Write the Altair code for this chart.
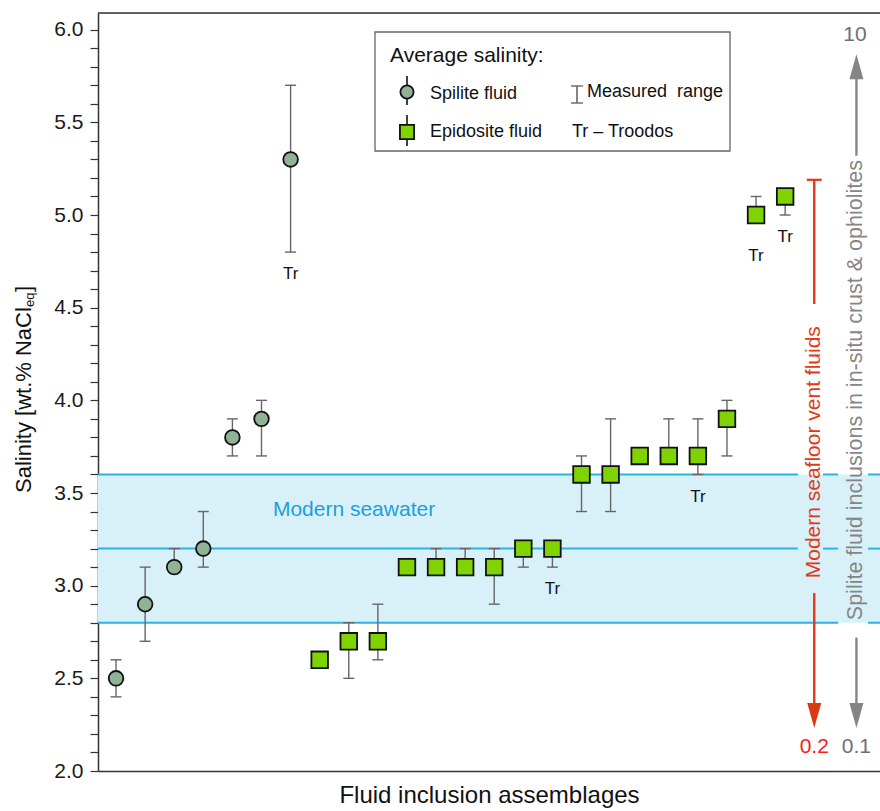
import altair as alt
import pandas as pd

# ---------------- data ----------------
spilite_salinity = [2.5, 2.9, 3.1, 3.2, 3.8, 3.9, 5.3]
spilite_low      = [2.4, 2.7, 3.1, 3.1, 3.7, 3.7, 4.8]
spilite_high     = [2.6, 3.1, 3.2, 3.4, 3.9, 4.0, 5.7]
spilite_troodos  = [False, False, False, False, False, False, True]

epidosite_salinity = [2.6, 2.7, 2.7, 3.1, 3.1, 3.1, 3.1, 3.2, 3.2, 3.6, 3.6, 3.7, 3.7, 3.7, 3.9, 5.0, 5.1]
epidosite_low      = [2.6, 2.5, 2.6, 3.1, 3.1, 3.1, 2.9, 3.1, 3.1, 3.4, 3.4, 3.7, 3.7, 3.6, 3.7, 5.0, 5.0]
epidosite_high     = [2.6, 2.8, 2.9, 3.1, 3.2, 3.2, 3.2, 3.2, 3.2, 3.7, 3.9, 3.7, 3.9, 3.9, 4.0, 5.1, 5.1]
epidosite_troodos  = [False, False, False, False, False, False, False, False, True,
                      False, False, False, False, True, False, True, True]

seawater_range = [2.8, 3.6]
seawater_lines = [2.8, 3.2, 3.6]

vent_label_values = ["0.2"]       # modern seafloor vent fluids range (low end)
inclusion_label_values = ["10", "0.1"]

X_DOMAIN = [-0.62, 26.26]
Y_DOMAIN = [2.0, 6.09]
W, H = 782, 758

FONT = "Liberation Sans"
CIRCLE_FILL = "#8fb394"
SQUARE_FILL = "#7fd400"
ERR = "#666666"
CYAN = "#2ab4e6"
BAND = "#d8f1f8"
RED = "#e03a16"
GRAY = "#858585"

# ---------------- table ----------------
rows = []
i = 0
for s, lo, hi, tr in zip(spilite_salinity, spilite_low, spilite_high, spilite_troodos):
    rows.append(dict(x=i, y=s, lo=lo, hi=hi, kind="Spilite fluid", tr=tr))
    i += 1
for s, lo, hi, tr in zip(epidosite_salinity, epidosite_low, epidosite_high, epidosite_troodos):
    rows.append(dict(x=i, y=s, lo=lo, hi=hi, kind="Epidosite fluid", tr=tr))
    i += 1
df = pd.DataFrame(rows)
df["tr_y"] = [min(lo, v - 0.1) - 0.12 for lo, v in zip(df["lo"], df["y"])]

red_x = i              # column of the vent-fluid arrow
gray_x = i + 1.45      # column of the inclusion arrow

xs = alt.Scale(domain=X_DOMAIN, nice=False, zero=False)
ys = alt.Scale(domain=Y_DOMAIN, nice=False, zero=False)

tick_vals = [round(2.0 + 0.1 * k, 1) for k in range(41)]

x_axis = alt.Axis(title="Fluid inclusion assemblages", labels=False, ticks=False, grid=False,
                  domainColor="#333333", domainWidth=1.5, titleFontSize=24, titleFont=FONT,
                  titleFontWeight="normal", titleColor="#111111", titlePadding=12)
y_axis = alt.Axis(title=None, values=tick_vals, grid=False, domainColor="#333333", domainWidth=1.5,
                  tickColor="#333333", tickWidth=1.2, tickSize=8, labelPadding=7,
                  labelFontSize=21, labelFont=FONT, labelColor="#1a1a1a",
                  labelExpr="abs(datum.value*2 - round(datum.value*2)) < 0.001 ? format(datum.value, '.1f') : ''")


def X(field="x"):
    return alt.X(f"{field}:Q", scale=xs, axis=x_axis)


def Y(field="y"):
    return alt.Y(f"{field}:Q", scale=ys, axis=y_axis)


def one(**kw):
    return alt.Chart(pd.DataFrame([kw]))


# ---------------- seawater band ----------------
band = one(x=X_DOMAIN[0], x2=X_DOMAIN[1], y=seawater_range[0], y2=seawater_range[1]).mark_rect(
    color=BAND).encode(x=X(), x2="x2:Q", y=Y(), y2="y2:Q")

red_gap = (red_x - 0.56, red_x + 0.30)
gray_gap = (gray_x - 0.63, gray_x + 0.40)
red_text_span = (2.96, 4.52)
gray_text_span = (2.72, 5.32)
segs = []
for lev in seawater_lines:
    gaps = []
    if red_text_span[0] < lev < red_text_span[1]:
        gaps.append(red_gap)
    if gray_text_span[0] < lev < gray_text_span[1]:
        gaps.append(gray_gap)
    start = X_DOMAIN[0]
    for g0, g1 in sorted(gaps):
        segs.append(dict(x=start, x2=g0, y=lev))
        start = g1
    segs.append(dict(x=start, x2=X_DOMAIN[1], y=lev))
sea_lines = alt.Chart(pd.DataFrame(segs)).mark_rule(color=CYAN, strokeWidth=2).encode(
    x=X(), x2="x2:Q", y=Y())

sea_text = one(x=8.18, y=3.41, t="Modern seawater").mark_text(
    font=FONT, fontSize=21, color="#1a9fe0").encode(x=X(), y=Y(), text="t:N")

# ---------------- data marks ----------------
base = alt.Chart(df)
err = base.mark_rule(color=ERR, strokeWidth=1.4).encode(x=X(), y=Y("lo"), y2="hi:Q")
cap_lo = base.mark_tick(orient="horizontal", size=11, thickness=1.4, color=ERR, opacity=1).encode(x=X(), y=Y("lo"))
cap_hi = base.mark_tick(orient="horizontal", size=11, thickness=1.4, color=ERR, opacity=1).encode(x=X(), y=Y("hi"))
circles = base.transform_filter(alt.datum.kind == "Spilite fluid").mark_point(
    shape="circle", filled=True, fill=CIRCLE_FILL, stroke="#111111", strokeWidth=1.8,
    size=215, opacity=1).encode(x=X(), y=Y())
squares = base.transform_filter(alt.datum.kind == "Epidosite fluid").mark_point(
    shape="square", filled=True, fill=SQUARE_FILL, stroke="#111111", strokeWidth=1.8,
    size=275, opacity=1).encode(x=X(), y=Y())
tr_text = base.transform_filter(alt.datum.tr).mark_text(
    font=FONT, fontSize=17, color="#111111", baseline="middle").encode(
    x=X(), y=Y("tr_y"), text=alt.value("Tr"))

# ---------------- right-hand annotations ----------------
down_path = "M-0.56,-1L0.56,-1L0,1Z"
up_path = "M-0.56,1L0.56,1L0,-1Z"

red_rules = alt.Chart(pd.DataFrame([
    dict(x=red_x, y=5.19, y2=4.52),
    dict(x=red_x, y=2.96, y2=2.30),
])).mark_rule(color=RED, strokeWidth=2.4).encode(x=X(), y=Y(), y2="y2:Q")
red_cap = one(x=red_x, y=5.19).mark_tick(orient="horizontal", size=15, thickness=2.2, color=RED,
                                           opacity=1).encode(x=X(), y=Y())
red_head = one(x=red_x, y=2.30).mark_point(shape=down_path, size=625, filled=True, fill="#d93a10",
                                             strokeWidth=0, opacity=1).encode(x=X(), y=Y())
red_text = one(x=red_x, y=3.72, t="Modern seafloor vent fluids").mark_text(
    angle=270, font=FONT, fontSize=21, color=RED, baseline="middle").encode(x=X(), y=Y(), text="t:N")
red_val = one(x=red_x, y=2.13, t=vent_label_values[0]).mark_text(
    font=FONT, fontSize=21, color="#ff1a1a", baseline="middle").encode(x=X(), y=Y(), text="t:N")

gray_rules = alt.Chart(pd.DataFrame([
    dict(x=gray_x, y=5.32, y2=5.80),
    dict(x=gray_x, y=2.72, y2=2.30),
])).mark_rule(color=GRAY, strokeWidth=2.4).encode(x=X(), y=Y(), y2="y2:Q")
gray_heads = alt.Chart(pd.DataFrame([
    dict(x=gray_x, y=5.80, s="up"),
    dict(x=gray_x, y=2.30, s="down"),
])).mark_point(filled=True, fill=GRAY, strokeWidth=0, size=625, opacity=1).encode(
    x=X(), y=Y(), shape=alt.Shape("s:N", scale=alt.Scale(domain=["up", "down"], range=[up_path, down_path]),
                                  legend=None))
gray_text = one(x=gray_x, y=4.055, t="Spilite fluid inclusions in in-situ crust & ophiolites").mark_text(
    angle=270, font=FONT, fontSize=21.5, color=GRAY, baseline="middle").encode(x=X(), y=Y(), text="t:N")
gray_vals = alt.Chart(pd.DataFrame([
    dict(x=gray_x - 0.05, y=5.97, t=inclusion_label_values[0]),
    dict(x=gray_x, y=2.13, t=inclusion_label_values[1]),
])).mark_text(font=FONT, fontSize=21, color="#707070", baseline="middle").encode(x=X(), y=Y(), text="t:N")

# ---------------- legend (drawn) ----------------
leg_box = one(a=0).mark_rect(fill="white", stroke="#666666", strokeWidth=1.3).encode(
    x=alt.value(277), x2=alt.value(632), y=alt.value(19), y2=alt.value(138))
leg_lines = alt.Chart(pd.DataFrame([
    dict(x=309, y=63, y2=92, c="#111111"),
    dict(x=309, y=102, y2=133, c="#111111"),
    dict(x=479, y=73, y2=90, c=ERR),
])).mark_rule(strokeWidth=1.6).encode(
    x=alt.X("x:Q", scale=None), y=alt.Y("y:Q", scale=None), y2="y2:Q",
    color=alt.Color("c:N", scale=None))
leg_caps = alt.Chart(pd.DataFrame([
    dict(x=473, x2=485, y=73),
    dict(x=473, x2=485, y=90),
])).mark_rule(color=ERR, strokeWidth=1.4).encode(
    x=alt.X("x:Q", scale=None), x2="x2:Q", y=alt.Y("y:Q", scale=None))
leg_circle = one(a=0).mark_point(shape="circle", filled=True, fill=CIRCLE_FILL, stroke="#111111",
                                 strokeWidth=1.8, size=175, opacity=1).encode(x=alt.value(309), y=alt.value(79))
leg_square = one(a=0).mark_point(shape="square", filled=True, fill=SQUARE_FILL, stroke="#111111",
                                 strokeWidth=1.8, size=200, opacity=1).encode(x=alt.value(309), y=alt.value(119))
leg_texts = alt.Chart(pd.DataFrame([
    dict(x=292, y=49, t="Average salinity:", s=21),
    dict(x=332, y=86, t="Spilite fluid", s=18),
    dict(x=332, y=124, t="Epidosite fluid", s=18),
    dict(x=489, y=84, t="Measured\u00a0 range", s=18),
    dict(x=474, y=124, t="Tr \u2013 Troodos", s=18),
])).mark_text(font=FONT, align="left", baseline="alphabetic", color="#111111").encode(
    x=alt.X("x:Q", scale=None), y=alt.Y("y:Q", scale=None), text="t:N",
    size=alt.Size("s:Q", scale=None, legend=None))

# ---------------- y-axis title with subscript ----------------
ytitle = alt.Chart(pd.DataFrame([
    dict(x=-67, y=480, t="Salinity [wt.% NaCl", s=22),
    dict(x=-64, y=294, t="eq", s=13),
    dict(x=-67, y=279, t="]", s=22),
])).mark_text(font=FONT, angle=270, align="left", baseline="alphabetic", color="#111111").encode(
    x=alt.X("x:Q", scale=None), y=alt.Y("y:Q", scale=None), text="t:N",
    size=alt.Size("s:Q", scale=None, legend=None))

top_line = one(a=0).mark_rule(color="#333333", strokeWidth=1.5).encode(
    x=alt.value(0), x2=alt.value(W), y=alt.value(0))

chart = alt.layer(
    band, sea_lines, sea_text,
    err, cap_lo, cap_hi, circles, squares, tr_text,
    red_rules, red_cap, red_head, red_text, red_val,
    gray_rules, gray_heads, gray_text, gray_vals,
    leg_box, leg_lines, leg_caps, leg_circle, leg_square, leg_texts,
    ytitle, top_line,
).properties(
    width=W, height=H,
    padding={"left": 98, "top": 13, "right": 0, "bottom": 40},
    autosize=alt.AutoSizeParams(type="none"),
).configure_view(stroke=None).configure(font=FONT, background="white")

chart.save("out.html", embed_options={"renderer": "svg", "actions": False})
